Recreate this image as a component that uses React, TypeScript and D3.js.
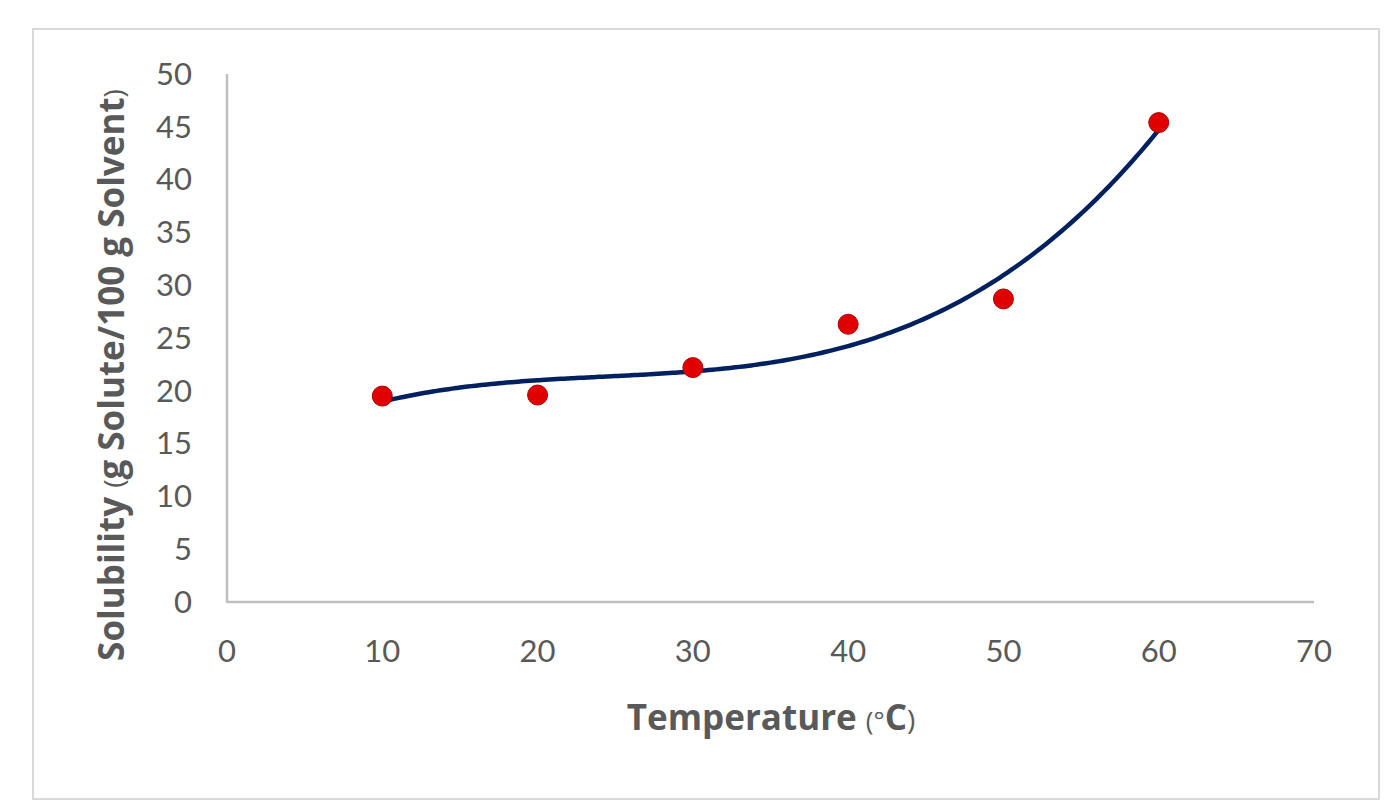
import * as d3 from "d3";

// measured solubility per temperature
const temperatures = [10, 20, 30, 40, 50, 60];
const solubility = [19.5, 19.6, 22.2, 26.3, 28.7, 45.4];
const xTicks = [0, 10, 20, 30, 40, 50, 60, 70];
const yTicks = [0, 5, 10, 15, 20, 25, 30, 35, 40, 45, 50];

const W = 1392;
const H = 810;
const textColor = "#595959";
const tickFont = "Lato, 'Open Sans', sans-serif";
const titleFont = "'Open Sans', Lato, sans-serif";

// least-squares polynomial (order 3 trendline)
function polyFit(xs: number[], ys: number[], order: number) {
  const n = order + 1;
  const A: number[][] = [];
  for (let r = 0; r < n; r++) {
    const row: number[] = [];
    for (let c = 0; c < n; c++) row.push(d3.sum(xs, (x) => Math.pow(x, r + c)));
    row.push(d3.sum(xs, (x, i) => Math.pow(x, r) * ys[i]));
    A.push(row);
  }
  for (let i = 0; i < n; i++) {
    let p = i;
    for (let k = i + 1; k < n; k++) if (Math.abs(A[k][i]) > Math.abs(A[p][i])) p = k;
    [A[i], A[p]] = [A[p], A[i]];
    for (let k = i + 1; k < n; k++) {
      const f = A[k][i] / A[i][i];
      for (let j = i; j <= n; j++) A[k][j] -= f * A[i][j];
    }
  }
  const coef = new Array(n).fill(0);
  for (let i = n - 1; i >= 0; i--) {
    let s = A[i][n];
    for (let j = i + 1; j < n; j++) s -= A[i][j] * coef[j];
    coef[i] = s / A[i][i];
  }
  return (x: number) => coef.reduce((acc, c, i) => acc + c * Math.pow(x, i), 0);
}

export default function App() {
  const x = d3.scaleLinear().domain([0, 70]).range([227, 1314]);
  const y = d3.scaleLinear().domain([0, 50]).range([602, 74]);
  const fit = polyFit(temperatures, solubility, 3);
  const [x0, x1] = d3.extent(temperatures) as [number, number];
  const curve = d3.range(x0, x1 + 0.001, 0.25).map((t) => [t, fit(t)] as [number, number]);
  const line = d3
    .line<[number, number]>()
    .x((d) => x(d[0]))
    .y((d) => y(d[1]))
    .curve(d3.curveMonotoneX);

  return (
    <svg width={W} height={H} style={{ position: "absolute", left: 0, top: 0 }}>
      <rect x={0} y={0} width={W} height={H} fill="#fff" />
      <rect x={33} y={29} width={1346} height={770} fill="none" stroke="#d9d9d9" strokeWidth={2} />
      {/* axes */}
      <line x1={x(0)} x2={x(0)} y1={y(0) + 1} y2={y(50)} stroke="#bfbfbf" strokeWidth={2.5} />
      <line x1={x(0)} x2={x(70)} y1={y(0)} y2={y(0)} stroke="#bfbfbf" strokeWidth={2.5} />
      {yTicks.map((t) => (
        <text key={t} x={192} y={y(t)} dy="0.35em" textAnchor="end" fontSize={31} fill={textColor} fontFamily={tickFont}>
          {t}
        </text>
      ))}
      {xTicks.map((t) => (
        <text key={t} x={x(t)} y={651} dy="0.35em" textAnchor="middle" fontSize={31} fill={textColor} fontFamily={tickFont}>
          {t}
        </text>
      ))}
      {/* trendline */}
      <path d={line(curve) ?? ""} fill="none" stroke="#002060" strokeWidth={4.5} />
      {temperatures.map((t, i) => (
        <circle key={t} cx={x(t)} cy={y(solubility[i])} r={10} fill="#e00000" stroke="#b00000" strokeWidth={1} />
      ))}
      <text x={771} y={718} dy="0.35em" textAnchor="middle" fontSize={35} fontWeight="bold" fill={textColor} fontFamily={titleFont}>
        Temperature <tspan fontWeight="normal" fontSize={26}>(°</tspan>C<tspan fontWeight="normal" fontSize={28}>)</tspan>
      </text>
      <text
        transform={`translate(112,375) rotate(-90)`}
        dy="0.35em"
        textAnchor="middle"
        fontSize={35}
        fontWeight="bold"
        fill={textColor}
        fontFamily={titleFont}
      >
        Solubility <tspan fontWeight="normal" fontSize={28}>(</tspan>g Solute/100 g Solvent<tspan fontWeight="normal" fontSize={28}>)</tspan>
      </text>
    </svg>
  );
}
